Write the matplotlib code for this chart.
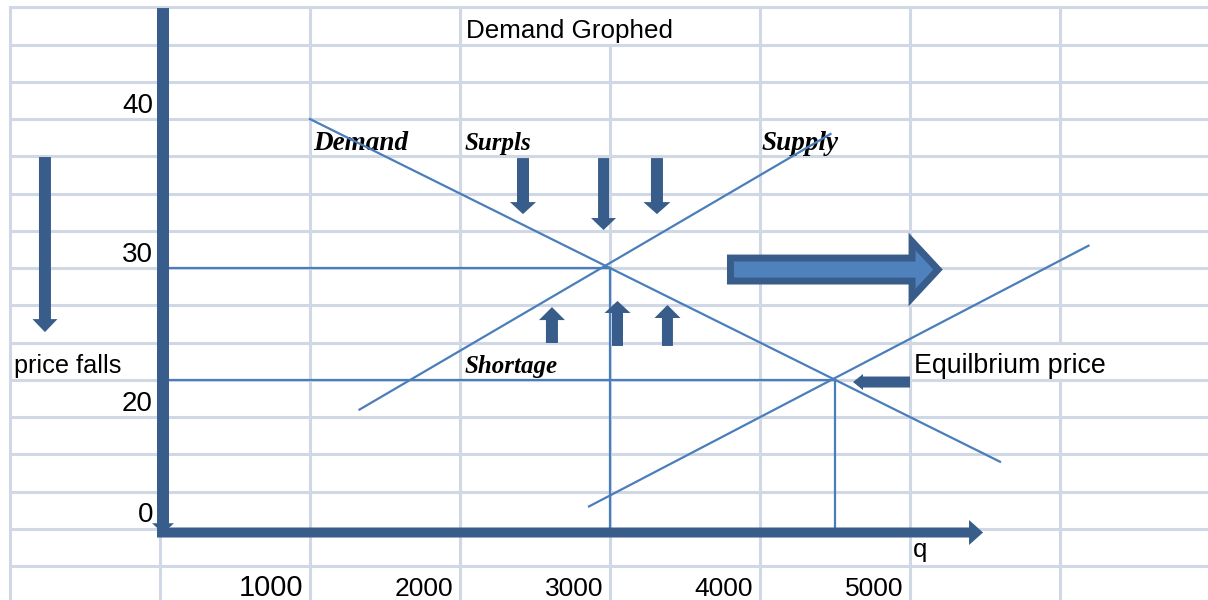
import numpy as np
import matplotlib
matplotlib.use("Agg")
import matplotlib.pyplot as plt
from matplotlib.patches import FancyArrowPatch, ArrowStyle

# demand / supply schedules (quantity, price)
demand_q = [1000, 5600]
demand_p = [40, 17]
supply_q = [1330, 4470]
supply_p = [20.5, 39.0]
supply2_q = [2860, 6190]
supply2_p = [14.0, 31.5]

# equilibrium points before and after the supply shift
equil_q = [3000, 4500]
equil_p = [30, 22.5]

price_labels = [40, 30, 20, 0]
qty_labels = [1000, 2000, 3000, 4000, 5000]

DPI = 100
GRID = "#D0D7E5"
LINE = "#4A7EBB"
DARK = "#385D8A"
FILL = "#4F81BD"
SANS = "Liberation Sans"
SERIF = "Liberation Serif"

AXIS_P = 12.25          # price level where the q-axis is drawn
TOP_P = 47.5            # top edge of the sheet grid
LEFT_Q = -1000          # left edge of the sheet grid

fig = plt.figure(figsize=(12.08, 6.0), dpi=DPI)
ax = fig.add_axes([0, 0, 1, 1])
ax.set_xlim(-1066.7, 6986.7)
ax.set_ylim(7.72, 47.99)
ax.axis("off")

# spreadsheet cells: one column per 1000 units, one row per 2.5 price
x_right = ax.get_xlim()[1]
y_bottom = ax.get_ylim()[0]
rows = np.arange(TOP_P, y_bottom, -2.5)
ax.hlines(rows, LEFT_Q, x_right, color=GRID, lw=2.2, zorder=0)
# cells where overflowing text hides the border
hidden = {3000: (45.0, 47.5), 6000: (22.5, 25.0)}
for q in np.arange(LEFT_Q, x_right, 1000):
    if q in hidden:
        lo, hi = hidden[q]
        ax.plot([q, q], [y_bottom, lo], color=GRID, lw=2.2, zorder=0)
        ax.plot([q, q], [hi, TOP_P], color=GRID, lw=2.2, zorder=0)
    else:
        ax.plot([q, q], [y_bottom, TOP_P], color=GRID, lw=2.2, zorder=0)

# curves
ax.plot(demand_q, demand_p, color=LINE, lw=1.6, zorder=3)
ax.plot(supply_q, supply_p, color=LINE, lw=1.6, zorder=3)
ax.plot(supply2_q, supply2_p, color=LINE, lw=1.6, zorder=3)
for q, p in zip(equil_q, equil_p):
    ax.plot([0, q], [p, p], color=LINE, lw=1.6, zorder=3)
    ax.plot([q, q], [p, AXIS_P], color=LINE, lw=1.6, zorder=3)


def block_arrow(start, end, shaft, head_w, head_len, face=DARK, edge=None, lw=0.0):
    # sizes given in pixels, the arrow style works in points
    k = 72.0 / DPI
    style = ArrowStyle.Simple(head_length=head_len * k, head_width=head_w * k,
                              tail_width=shaft * k)
    arr = FancyArrowPatch(start, end, arrowstyle=style, mutation_scale=1,
                          shrinkA=0, shrinkB=0, facecolor=face,
                          edgecolor=edge if edge else face, linewidth=lw,
                          joinstyle="miter", zorder=5)
    ax.add_patch(arr)


# axes drawn as thick arrows
block_arrow((20, 47.45), (20, 12.2), 12, 22, 10)
block_arrow((-20, AXIS_P), (5487, AXIS_P), 10, 25, 14)

# "price falls" arrow on the left
block_arrow((-767, 37.45), (-767, 25.7), 12, 25, 13)

# surplus pushes price down
block_arrow((2420, 37.38), (2420, 33.62), 12, 26, 12)
block_arrow((2957, 37.38), (2957, 32.55), 11, 25, 12)
block_arrow((3313, 37.38), (3313, 33.62), 12, 27, 12)

# shortage pushes price up
block_arrow((2613, 24.97), (2613, 27.38), 12, 26, 13)
block_arrow((3050, 24.77), (3050, 27.79), 11, 26, 12)
block_arrow((3383, 24.77), (3383, 27.52), 11, 26, 13)

# supply shift
block_arrow((3803, 29.9), (5187, 29.9), 23, 56, 26, face=FILL, edge=DARK, lw=5)

# pointer to the new equilibrium
block_arrow((5000, 22.35), (4620, 22.35), 11, 16, 10)

# sheet text
ax.text(2040, 45.9, "Demand Grophed", family=SANS, fontsize=18.7,
        ha="left", va="center", zorder=2)
for v in price_labels:
    ax.text(-47, max(v, AXIS_P + 0.3) + 0.4, str(v), family=SANS, fontsize=20,
            ha="right", va="baseline", zorder=2)
for v in qty_labels:
    ax.text(v - 45, 8.0, str(v), family=SANS,
            fontsize=21 if v == qty_labels[0] else 19,
            ha="right", va="baseline", zorder=2)
ax.text(-973, 22.95, "price falls", family=SANS, fontsize=18.2,
        ha="left", va="baseline", zorder=2)
ax.text(5027, 22.95, "Equilbrium price", family=SANS, fontsize=19.3,
        ha="left", va="baseline", zorder=2)
ax.text(5020, 10.6, "q", family=SANS, fontsize=18.5,
        ha="left", va="baseline", zorder=2)

for txt, q, p, size in [("Demand", 1020, 37.92, 19.5), ("Surpls", 2027, 37.92, 18),
                        ("Supply", 4013, 37.92, 19.5), ("Shortage", 2033, 22.95, 18)]:
    ax.text(q, p, txt, family=SERIF, style="italic", weight="bold",
            fontsize=size, ha="left", va="baseline", zorder=2)

fig.savefig("out.png", dpi=DPI)
